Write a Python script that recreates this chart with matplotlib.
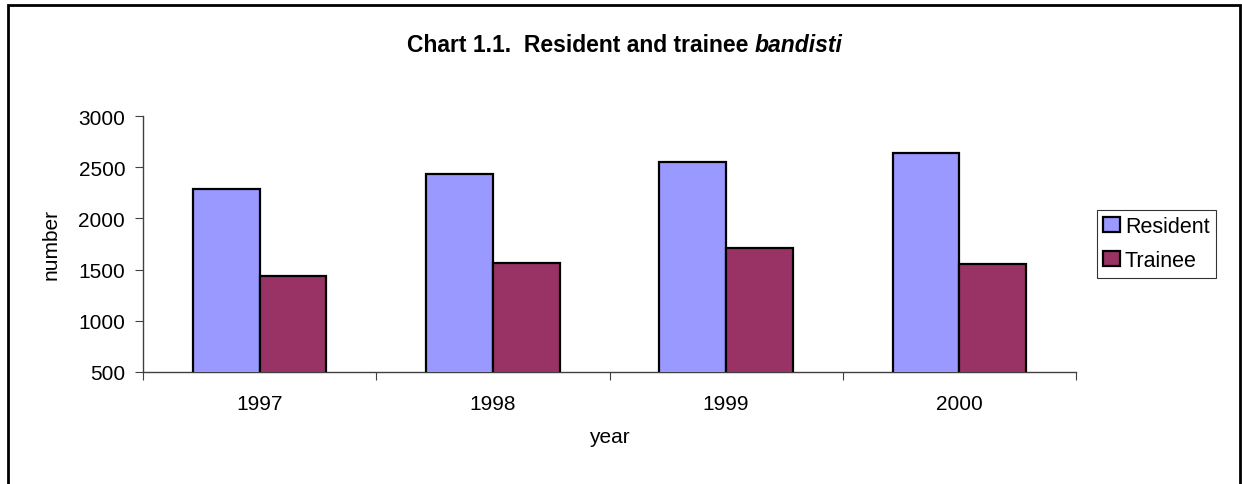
import numpy as np
import matplotlib
matplotlib.use("Agg")
import matplotlib.pyplot as plt
from matplotlib.lines import Line2D

plt.rcParams['font.family'] = ['Liberation Sans', 'DejaVu Sans']

years = ['1997', '1998', '1999', '2000']
resident = [2288, 2435, 2556, 2638]
trainee = [1440, 1564, 1714, 1554]

W, H = 1242, 485
fig = plt.figure(figsize=(W / 100, H / 100), dpi=100)
fig.patch.set_facecolor('white')

# frame: top, left and right edges (bottom is cut off in the original)
xl, xr, yt = 8 / W, 1240 / W, 1 - 6 / H
fig.add_artist(Line2D([xl, xl, xr, xr], [0, yt, yt, 0], transform=fig.transFigure,
                      color='black', linewidth=2.0, solid_joinstyle='miter'))

ax = fig.add_axes([143.3 / W, 1 - 372.7 / H, (1075.7 - 143.3) / W, (372.7 - 117.3) / H])

x = np.arange(len(years))
w = 1 / 3.5
ax.bar(x - w / 2, resident, width=w, color='#9999FF', edgecolor='black', linewidth=1.6,
       label='Resident', zorder=3)
ax.bar(x + w / 2, trainee, width=w, color='#993366', edgecolor='black', linewidth=1.6,
       label='Trainee', zorder=3)

ax.set_ylim(500, 3000)
ax.set_yticks(range(500, 3001, 500))
ax.set_xlim(-0.5, len(years) - 0.5)
ax.set_xticks(np.arange(-0.5, len(years), 1.0))
ax.set_xticklabels([])
ax.set_xticks(x, minor=True)
ax.set_xticklabels(years, minor=True)
ax.tick_params(axis='x', which='major', direction='out', length=6, color='#404040')
ax.tick_params(axis='x', which='minor', length=0, pad=16, labelsize=15)
ax.tick_params(axis='y', direction='out', length=6, color='#404040', labelsize=15, pad=7)

for s in ['top', 'right']:
    ax.spines[s].set_visible(False)
for s in ['left', 'bottom']:
    ax.spines[s].set_color('#404040')
    ax.spines[s].set_linewidth(1.0)

ax.set_ylabel('number', fontsize=15, labelpad=13)
ax.set_xlabel('year', fontsize=15, labelpad=10)

# title: bold with the italic word at the end, centred as a whole
t1 = fig.text(0, 1 - 45 / H, 'Chart 1.1.  Resident and trainee ', ha='left', va='center',
              fontsize=16.5, fontweight='bold')
t2 = fig.text(0, 1 - 45 / H, 'bandisti', ha='left', va='center',
              fontsize=16.5, fontweight='bold', fontstyle='italic')
r = fig.canvas.get_renderer()
w1 = t1.get_window_extent(r).width
w2 = t2.get_window_extent(r).width
x0 = (W / 2 + 4 - (w1 + w2) / 2)
t1.set_x(x0 / W)
t2.set_x((x0 + w1) / W)

leg = fig.legend(loc='upper left', bbox_to_anchor=(1097 / W, 1 - 211 / H), fontsize=15.5,
                 frameon=True, fancybox=False, edgecolor='black', handlelength=0.75,
                 handleheight=0.7, handletextpad=0.25, borderpad=0.3, labelspacing=0.6,
                 borderaxespad=0)
leg.get_frame().set_linewidth(0.8)
for h in leg.legend_handles:
    h.set_linewidth(1.6)

fig.savefig('out.png', dpi=100, facecolor='white')
